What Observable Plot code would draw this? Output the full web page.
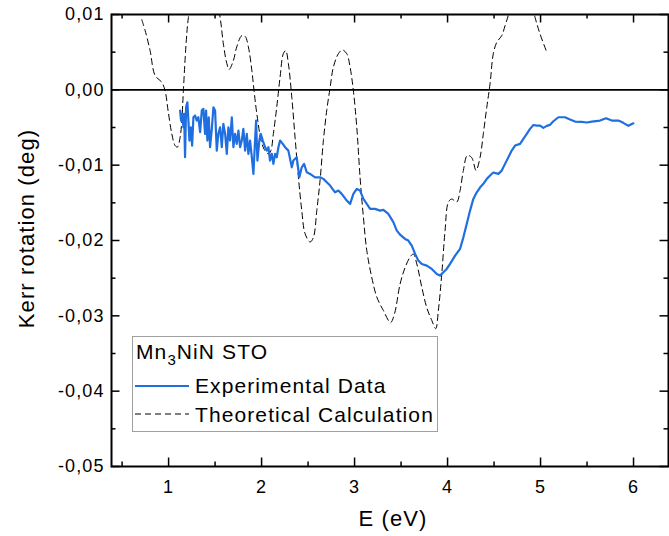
<!DOCTYPE html>
<html><head><meta charset="utf-8">
<script src="https://cdn.jsdelivr.net/npm/d3@7"></script>
<script src="https://cdn.jsdelivr.net/npm/@observablehq/plot@0.6"></script>
<style>
body{margin:0;background:#fff}
svg text{letter-spacing:1.1px}
</style>
</head><body><div id="chart"></div>
<script>
// Experimental data (E in eV, Kerr rotation in deg)
const expE = [1.124,1.134,1.148,1.159,1.167,1.177,1.188,1.202,1.213,1.224,
1.239,1.253,1.267,1.285,1.303,1.32,1.339,1.357,1.374,1.392,
1.403,1.417,1.432,1.446,1.465,1.482,1.5,1.518,1.535,1.554,
1.572,1.589,1.608,1.626,1.643,1.661,1.68,1.697,1.715,1.733,
1.751,1.769,1.787,1.804,1.823,1.841,1.858,1.876,1.895,1.912,
1.93,1.941,1.955,1.976,1.991,2.013,2.038,2.056,2.073,2.091,
2.11,2.127,2.145,2.163,2.181,2.199,2.228,2.253,2.288,2.325,
2.342,2.378,2.406,2.432,2.457,2.486,2.522,2.575,2.629,2.665,
2.701,2.737,2.79,2.826,2.862,2.916,2.952,2.987,3.024,3.059,
3.095,3.131,3.167,3.22,3.274,3.31,3.363,3.417,3.454,3.489,
3.543,3.578,3.615,3.651,3.686,3.723,3.776,3.83,3.884,3.919,
3.955,3.991,4.027,4.081,4.134,4.17,4.206,4.242,4.277,4.314,
4.349,4.385,4.422,4.457,4.492,4.546,4.583,4.618,4.654,4.69,
4.726,4.78,4.815,4.852,4.887,4.923,4.959,4.995,5.03,5.067,
5.102,5.138,5.192,5.263,5.317,5.371,5.443,5.497,5.551,5.64,
5.704,5.766,5.837,5.89,5.944,5.998];
const expKerr = [-0.00275,-0.00408,-0.00319,-0.00497,-0.00319,-0.00895,-0.00231,-0.00165,-0.00408,-0.00673,
-0.00497,-0.0074,-0.00364,-0.00341,-0.00408,-0.00364,-0.00563,-0.00275,-0.00252,-0.00584,
-0.00275,-0.00673,-0.00364,-0.00762,-0.00518,-0.00231,-0.00275,-0.00807,-0.00584,-0.00497,
-0.00762,-0.00452,-0.00584,-0.0085,-0.00497,-0.00673,-0.00364,-0.00762,-0.00584,-0.00717,
-0.0054,-0.00762,-0.00673,-0.00518,-0.00807,-0.00584,-0.0085,-0.00673,-0.00895,-0.01116,
-0.00673,-0.00408,-0.00939,-0.00673,-0.00584,-0.00673,-0.00762,-0.00807,-0.00762,-0.00939,
-0.0085,-0.00983,-0.0085,-0.00895,-0.00762,-0.00673,-0.00717,-0.00762,-0.00807,-0.01028,
-0.00939,-0.00895,-0.01161,-0.01028,-0.00983,-0.01094,-0.01116,-0.01161,-0.01161,-0.01182,
-0.01227,-0.01271,-0.0136,-0.01337,-0.01381,-0.0147,-0.01514,-0.01381,-0.01315,-0.01337,
-0.01448,-0.01514,-0.0158,-0.0158,-0.01603,-0.01594,-0.01647,-0.01756,-0.01869,-0.01922,
-0.01979,-0.02001,-0.02068,-0.02178,-0.02267,-0.02311,-0.02333,-0.02377,-0.02444,-0.02466,
-0.02422,-0.02377,-0.02311,-0.02201,-0.02112,-0.01958,-0.0178,-0.01603,-0.01448,-0.0136,
-0.01297,-0.01248,-0.01182,-0.01138,-0.01098,-0.01116,-0.01072,-0.00983,-0.00895,-0.00806,
-0.0074,-0.00717,-0.00651,-0.00584,-0.00518,-0.00467,-0.00474,-0.00474,-0.00505,-0.00478,
-0.00465,-0.00417,-0.00364,-0.00364,-0.00394,-0.00421,-0.00425,-0.00434,-0.00421,-0.00408,
-0.00377,-0.00408,-0.00408,-0.00438,-0.00478,-0.00444];

// Theoretical calculation
const theoE = [0.712,0.747,0.801,0.855,0.927,0.962,0.995,1.034,1.07,1.095,
1.124,1.142,1.159,1.188,1.213,1.27,1.38,1.49,1.554,1.589,
1.626,1.651,1.697,1.733,1.787,1.823,1.858,1.895,1.919,1.948,
2.002,2.038,2.073,2.099,2.127,2.163,2.199,2.234,2.26,2.288,
2.325,2.36,2.396,2.432,2.468,2.522,2.557,2.594,2.629,2.665,
2.701,2.737,2.772,2.826,2.869,2.916,2.952,2.987,3.024,3.059,
3.095,3.131,3.185,3.239,3.31,3.387,3.43,3.489,3.543,3.597,
3.632,3.669,3.723,3.776,3.83,3.873,3.901,3.938,3.973,4.009,
4.045,4.099,4.134,4.17,4.213,4.26,4.306,4.349,4.385,4.422,
4.457,4.492,4.529,4.583,4.618,4.654,4.72,4.8,4.88,4.941,
4.995,5.067];
const theoKerr = [0.0093,0.0079,0.0052,0.0019,0.001,-0.0001,-0.0028,-0.0058,-0.0074,-0.0076,
-0.0063,-0.0041,-0.0001,0.0061,0.0096,0.0135,0.015,0.0135,0.0096,0.0061,
0.0035,0.0027,0.0039,0.0057,0.0072,0.0071,0.0057,0.0026,-0.0001,-0.0031,
-0.0071,-0.0081,-0.0085,-0.0081,-0.0058,-0.0023,0.0017,0.0048,0.0052,0.0035,
-0.001,-0.0063,-0.0116,-0.016,-0.0191,-0.0202,-0.0196,-0.016,-0.012,-0.0067,
-0.0027,0.0003,0.003,0.0048,0.0053,0.0048,0.003,-0.0001,-0.005,-0.0116,
-0.0169,-0.0213,-0.0249,-0.0275,-0.0293,-0.0309,-0.0297,-0.0258,-0.0236,-0.0222,
-0.0218,-0.0231,-0.0262,-0.0289,-0.0306,-0.0317,-0.0293,-0.0244,-0.0187,-0.0149,
-0.0145,-0.0149,-0.0134,-0.0107,-0.0087,-0.009,-0.0107,-0.009,-0.0058,-0.0023,
0.0008,0.0048,0.0063,0.0072,0.0085,0.0099,0.0125,0.0135,0.0125,0.0096,
0.0074,0.005];

const xTicks = [1, 2, 3, 4, 5, 6];
const xMinor = [0.5, 1.5, 2.5, 3.5, 4.5, 5.5];
const yTicks = [-0.05, -0.04, -0.03, -0.02, -0.01, 0, 0.01];
const yMinor = [-0.045, -0.035, -0.025, -0.015, -0.005, 0.005];
const xLabel = "E (eV)";
const yLabel = "Kerr rotation (deg)";
const legendTitle = ["Mn", "3", "NiN STO"];
const seriesNames = ["Experimental Data", "Theoretical Calculation"];

const expData = expE.map((e, i) => ({e, k: expKerr[i]}));
const theoData = theoE.map((e, i) => ({e, k: theoKerr[i]}));

const W = 669, H = 536, ML = 111, MR = 1, MT = 14, MB = 70;
const FW = W - ML - MR, FH = H - MT - MB;
const font = "'Liberation Sans', Arial, Helvetica, sans-serif";
const fmtY = d => d3.format(".2f")(d).replace("−", "-").replace(".", ",");

const majorLen = 8.5, minorLen = 4.5;
const tickStyle = {stroke: "#000", strokeWidth: 1.5};

const plot = Plot.plot({
  width: W, height: H,
  marginLeft: ML, marginRight: MR, marginTop: MT, marginBottom: MB,
  style: {fontFamily: font, background: "#fff", color: "#000"},
  x: {domain: [0.386, 6.376]},
  y: {domain: [-0.05, 0.01]},
  marks: [
    Plot.ruleY([0], {stroke: "#000", strokeWidth: 1.8}),
    Plot.line(theoData, {x: "e", y: "k", stroke: "#000", strokeWidth: 1, strokeDasharray: "6,4", curve: "catmull-rom", clip: true}),
    Plot.line(expData, {x: "e", y: "k", stroke: "#1f6fe0", strokeWidth: 2.2, clip: true}),
    // inward tick marks on all four sides
    Plot.tickX(xTicks, {x: d => d, insetTop: FH - majorLen, ...tickStyle}),
    Plot.tickX(xMinor, {x: d => d, insetTop: FH - minorLen, ...tickStyle}),
    Plot.tickX(xTicks, {x: d => d, insetBottom: FH - majorLen, ...tickStyle}),
    Plot.tickX(xMinor, {x: d => d, insetBottom: FH - minorLen, ...tickStyle}),
    Plot.tickY(yTicks, {y: d => d, insetRight: FW - majorLen, ...tickStyle}),
    Plot.tickY(yMinor, {y: d => d, insetRight: FW - minorLen, ...tickStyle}),
    Plot.tickY(yTicks, {y: d => d, insetLeft: FW - majorLen, ...tickStyle}),
    Plot.tickY(yMinor, {y: d => d, insetLeft: FW - minorLen, ...tickStyle}),
    Plot.frame({stroke: "#000", strokeWidth: 2}),
    Plot.axisX(xTicks, {tickSize: 0, tickPadding: 14, fontSize: 18, tickFormat: d => String(d), label: null}),
    Plot.axisY(yTicks, {tickSize: 0, tickPadding: 7, fontSize: 18, tickFormat: fmtY, label: null}),
    Plot.text([xLabel], {frameAnchor: "bottom", dx: 3, dy: 59, fontSize: 22}),
    Plot.text([yLabel], {frameAnchor: "left", textAnchor: "middle", rotate: -90, dx: -85, dy: -12, fontSize: 22})
  ]
});

// Legend drawn inside the plot area
const svg = d3.select(plot);
const lg = svg.append("g").attr("font-family", font).attr("fill", "#000").attr("text-anchor", "start");
lg.append("rect").attr("x", 132.5).attr("y", 336.5).attr("width", 305).attr("height", 95)
  .attr("fill", "#fff").attr("stroke", "#a0a0a0").attr("stroke-width", 1);
const t = lg.append("text").attr("x", 136).attr("y", 359).attr("font-size", 21);
t.append("tspan").text(legendTitle[0]);
t.append("tspan").attr("font-size", 15).attr("dy", 6).text(legendTitle[1]);
t.append("tspan").attr("dy", -6).text(legendTitle[2]);
lg.append("line").attr("x1", 135).attr("x2", 189).attr("y1", 386).attr("y2", 386)
  .attr("stroke", "#1f6fe0").attr("stroke-width", 2.2);
lg.append("text").attr("x", 195).attr("y", 393).attr("font-size", 21).text(seriesNames[0]);
lg.append("line").attr("x1", 135).attr("x2", 189).attr("y1", 414).attr("y2", 414)
  .attr("stroke", "#000").attr("stroke-width", 1).attr("stroke-dasharray", "6,4");
lg.append("text").attr("x", 195).attr("y", 422).attr("font-size", 21).text(seriesNames[1]);

document.getElementById("chart").appendChild(plot);
</script>
</body></html>
